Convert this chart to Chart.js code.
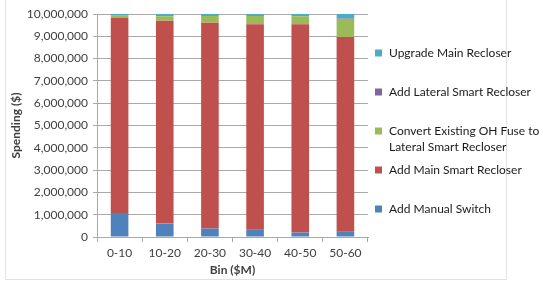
<!DOCTYPE html>
<html>
<head>
<meta charset="utf-8">
<script src="https://cdn.jsdelivr.net/npm/chart.js@4.4.1/dist/chart.umd.min.js"></script>
<style>
  html, body { margin: 0; padding: 0; background: #fff; }
  #wrap { position: relative; width: 550px; height: 286px; }
  #frame { position: absolute; left: 5px; top: -2px; width: 500px; height: 280px; border: 1px solid #e2e2e2; }
  canvas { position: absolute; left: 0; top: 0; }
</style>
</head>
<body>
<div id="wrap">
  <div id="frame"></div>
  <canvas id="myChart" width="550" height="286"></canvas>
</div>
<script>
// bins and spending per measure
const bins = ['0-10', '10-20', '20-30', '30-40', '40-50', '50-60'];
const manualSwitch    = [1080000,  600000,  380000,  350000,  200000,  260000];
const mainRecloser    = [8740000, 9100000, 9230000, 9190000, 9340000, 8710000];
const convertFuse     = [ 130000,  200000,  300000,  370000,  360000,  810000];
const lateralRecloser = [      0,       0,       0,       0,       0,   20000];
const upgradeMain     = [  50000,  100000,   90000,   90000,  100000,  200000];
const yTicks = [0, 1000000, 2000000, 3000000, 4000000, 5000000, 6000000, 7000000, 8000000, 9000000, 10000000];

const FONT = 'Lato, "Open Sans", sans-serif';
const TXT = '#404040';
const GRID = '#a9a9a9';

const series = [
  {label: 'Add Manual Switch', data: manualSwitch, color: '#4f81bd'},
  {label: 'Add Main Smart Recloser', data: mainRecloser, color: '#c0504d'},
  {label: ['Convert Existing OH Fuse to', 'Lateral Smart Recloser'], data: convertFuse, color: '#9bbb59'},
  {label: 'Add Lateral Smart Recloser', data: lateralRecloser, color: '#8064a2'},
  {label: 'Upgrade Main Recloser', data: upgradeMain, color: '#4bacc6'}
];

// legend on the right, top entry = last series (like Excel)
const sideLegend = {
  id: 'sideLegend',
  afterDraw(chart) {
    const ctx = chart.ctx;
    const x = chart.chartArea.right + 7;
    let y = 53;
    ctx.save();
    ctx.font = '12px ' + FONT;
    ctx.textBaseline = 'middle';
    chart.data.datasets.slice().reverse().forEach(ds => {
      const lines = Array.isArray(ds.label) ? ds.label : [ds.label];
      ctx.fillStyle = ds.backgroundColor;
      ctx.fillRect(x, y - 3.5, 7, 7);
      ctx.fillStyle = '#1a1a1a';
      lines.forEach((t, i) => ctx.fillText(t, x + 14, y + i * 16));
      y += 39;
    });
    ctx.restore();
  }
};

new Chart(document.getElementById('myChart').getContext('2d'), {
  type: 'bar',
  data: {
    labels: bins,
    datasets: series.map(s => ({
      label: s.label, data: s.data, backgroundColor: s.color,
      categoryPercentage: 1, barPercentage: 0.39
    }))
  },
  options: {
    responsive: false,
    animation: false,
    devicePixelRatio: 1,
    layout: {padding: {left: 9, top: 14, right: 182, bottom: 9}},
    plugins: {legend: {display: false}, tooltip: {enabled: false}},
    scales: {
      x: {
        stacked: true,
        afterFit: s => { s.height = 40; },
        grid: {drawOnChartArea: false, tickLength: 5, color: GRID},
        border: {color: GRID},
        ticks: {color: TXT, font: {family: FONT, size: 12}, padding: 4},
        title: {display: true, text: 'Bin ($M)', color: TXT, font: {family: FONT, size: 12, weight: 'bold'}, padding: 0}
      },
      y: {
        stacked: true,
        min: 0, max: 10000000,
        afterFit: s => { s.width = 88; },
        afterBuildTicks: s => { s.ticks = yTicks.map(v => ({value: v})); },
        grid: {color: GRID, tickLength: 4},
        border: {color: GRID},
        ticks: {color: TXT, font: {family: FONT, size: 12}, padding: 5,
          callback: v => v.toLocaleString('en-US')},
        title: {display: true, text: 'Spending ($)', color: TXT, font: {family: FONT, size: 12, weight: 'bold'}, padding: 0}
      }
    }
  },
  plugins: [sideLegend]
});
</script>
</body>
</html>
